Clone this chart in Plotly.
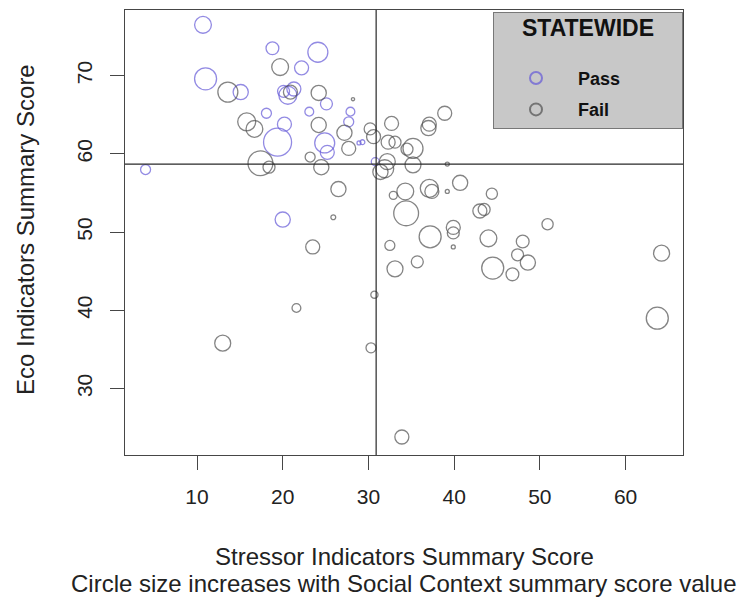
import plotly.graph_objects as go

# ---- data ----
pass_stressor = [10.7, 18.8, 24.1, 22.2, 11.0, 15.1, 20.6, 21.3, 20.1, 25.1, 23.1, 18.1,
                 27.9, 20.2, 19.4, 27.7, 24.9, 25.2, 28.9, 30.8, 29.3, 4.0, 20.0]
pass_eco = [76.5, 73.5, 73.0, 71.0, 69.6, 67.9, 67.5, 68.3, 68.0, 66.4, 65.4, 65.2,
            65.4, 63.8, 61.5, 64.1, 61.4, 60.2, 61.4, 59.0, 61.5, 58.0, 51.6]
pass_social = [42, 32, 50, 35, 55, 38, 45, 35, 30, 30, 22, 25,
               22, 35, 70, 25, 50, 35, 10, 20, 12, 25, 38]

fail_stressor = [19.7, 13.6, 24.2, 28.2, 15.8, 16.7, 24.2, 27.2, 27.7, 30.2, 30.6, 23.2,
                 24.5, 17.4, 18.4, 26.5, 25.9, 23.5, 21.6, 30.7, 13.0, 30.3, 33.9, 63.7,
                 64.2, 39.2, 40.7, 44.4, 34.3, 37.1, 37.4, 39.2, 34.4, 43.0, 43.5, 32.5,
                 37.2, 39.9, 39.9, 39.9, 44.0, 50.9, 48.0, 47.4, 48.6, 35.7, 33.1, 44.5,
                 46.8, 32.9, 38.9, 37.1, 37.0, 32.7, 32.3, 33.1, 35.2, 34.5, 32.2, 31.9,
                 35.2, 31.4, 20.9]
fail_eco = [71.1, 67.9, 67.8, 67.0, 64.1, 63.2, 63.7, 62.7, 60.7, 63.2, 62.2, 59.6,
            58.3, 58.8, 58.3, 55.5, 51.9, 48.1, 40.3, 42.0, 35.8, 35.2, 23.8, 39.0,
            47.3, 58.7, 56.3, 54.9, 55.2, 55.6, 55.2, 55.2, 52.4, 52.7, 52.9, 48.3,
            49.4, 50.6, 49.9, 48.1, 49.2, 51.0, 48.8, 47.1, 46.1, 46.2, 45.3, 45.4,
            44.6, 54.7, 65.2, 63.8, 63.3, 63.9, 61.5, 61.5, 60.7, 60.6, 59.0, 58.1,
            58.6, 57.7, 67.9]
fail_social = [42, 50, 38, 8, 45, 42, 38, 38, 35, 30, 35, 25,
               38, 62, 30, 38, 12, 35, 22, 18, 40, 25, 35, 55,
               40, 10, 38, 28, 42, 45, 35, 10, 62, 35, 30, 25,
               55, 35, 30, 10, 42, 28, 32, 30, 38, 30, 40, 55,
               32, 20, 35, 35, 38, 35, 35, 30, 50, 30, 40, 45,
               40, 38, 35]

stressor_threshold = 30.9
eco_threshold = 58.7

x_ticks = [10, 20, 30, 40, 50, 60]
y_ticks = [30, 40, 50, 60, 70]

FONT = "Liberation Sans, Arial, sans-serif"
BLUE = "rgb(100,88,215)"
GREY = "rgb(80,80,80)"
AXIS = "rgb(70,70,70)"

fig = go.Figure()
fig.add_trace(go.Scatter(
    x=pass_stressor, y=pass_eco, mode="markers", name="<b>Pass</b>", legendgroup="p",
    marker=dict(size=pass_social, sizemode="diameter", sizeref=2.5, symbol="circle-open",
                color=BLUE, line=dict(width=1.3, color=BLUE)),
))
fig.add_trace(go.Scatter(
    x=fail_stressor, y=fail_eco, mode="markers", name="<b>Fail</b>", legendgroup="f",
    marker=dict(size=fail_social, sizemode="diameter", sizeref=2.5, symbol="circle-open",
                color=GREY, line=dict(width=1.3, color=GREY)),
))

fig.add_shape(type="line", xref="x", yref="paper", x0=stressor_threshold, x1=stressor_threshold,
              y0=0, y1=1, line=dict(color="rgb(40,40,40)", width=1.2), layer="above")
fig.add_shape(type="line", xref="paper", yref="y", x0=0, x1=1, y0=eco_threshold, y1=eco_threshold,
              line=dict(color="rgb(40,40,40)", width=1.2), layer="above")

fig.update_xaxes(range=[1.6, 66.7], tickvals=x_ticks, ticks="outside", ticklen=14, tickwidth=1.2,
                 tickcolor=AXIS, showline=True, mirror=True, linecolor=AXIS, linewidth=1.2,
                 showgrid=False, zeroline=False, ticklabelstandoff=9,
                 tickfont=dict(family=FONT, size=21, color="#222"))
fig.update_yaxes(range=[21.5, 78.4], tickvals=y_ticks, ticks="outside", ticklen=14, tickwidth=1.2,
                 tickcolor=AXIS, showline=True, mirror=True, linecolor=AXIS, linewidth=1.2,
                 showgrid=False, zeroline=False, tickangle=-90, ticklabelstandoff=10,
                 tickfont=dict(family=FONT, size=21, color="#222"))

fig.add_annotation(text="Eco Indicators Summary Score", xref="paper", yref="paper",
                   x=-0.177, y=0.506, textangle=-90, showarrow=False,
                   xanchor="center", yanchor="middle",
                   font=dict(family=FONT, size=24, color="#222"))
fig.add_annotation(text="Stressor Indicators Summary Score", xref="paper", yref="paper",
                   x=0.5, y=-0.229, showarrow=False, xanchor="center", yanchor="middle",
                   font=dict(family=FONT, size=24, color="#222"))
fig.add_annotation(text="Circle size increases with Social Context summary score value",
                   xref="paper", yref="paper", x=0.5, y=-0.288, showarrow=False,
                   xanchor="center", yanchor="middle",
                   font=dict(family=FONT, size=24, color="#222"))

pad = "&nbsp;" * 4
fig.update_layout(
    width=739, height=591,
    margin=dict(l=117, r=64, t=2, b=144),
    paper_bgcolor="white", plot_bgcolor="white",
    showlegend=True,
    legend=dict(
        x=1, xanchor="right", y=0.9955, yanchor="top",
        bgcolor="rgb(200,200,200)", bordercolor="rgb(120,120,120)", borderwidth=1,
        title=dict(text=f"<span style='font-size:23px'><b>{pad}STATEWIDE{pad}</b></span><br>&nbsp;",
                   side="top center",
                   font=dict(family=FONT, size=18, color="#111")),
        font=dict(family=FONT, size=18, color="#111"),
        itemsizing="constant", itemwidth=74, tracegroupgap=5,
    ),
)

fig.write_html("out.html")
